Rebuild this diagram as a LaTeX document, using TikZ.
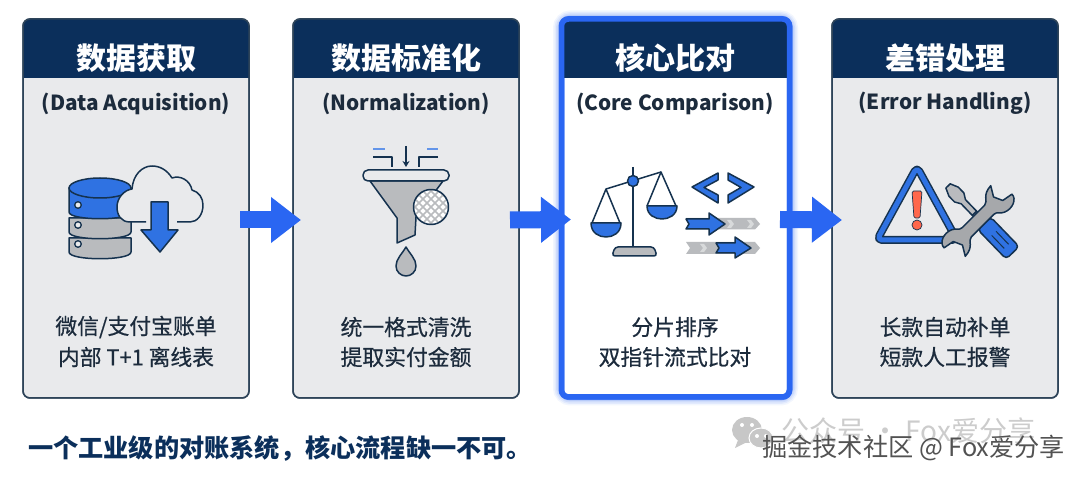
\documentclass[tikz,border=0pt]{standalone}
\usepackage{fontspec}
\usetikzlibrary{arrows.meta,calc}
\setmainfont{Noto Sans CJK SC}
\newfontfamily\medcjk[FakeBold=0.6]{Noto Sans CJK SC}
\definecolor{navy}{HTML}{0B2F5B}
\definecolor{edge}{HTML}{2E4459}
\definecolor{cardbg}{HTML}{E9EAEC}
\definecolor{bluee}{HTML}{2A66F2}
\definecolor{iconblue}{HTML}{2F72E2}
\definecolor{ink}{HTML}{15324F}
\definecolor{greyf}{HTML}{B9BBBE}
\definecolor{txt}{HTML}{1C2B3C}
\tikzset{
 card/.style={rectangle,rounded corners=7pt,draw=edge,line width=1.5pt,fill=cardbg,inner sep=0pt,outer sep=0pt,anchor=north west},
 hot/.style={card,draw=bluee,line width=5.5pt,fill=white},
 ttl/.style={font=\bfseries\fontsize{30}{30}\selectfont,text=white,inner sep=0pt},
 sub/.style={font=\bfseries\fontsize{20.8}{20.8}\selectfont,text=txt,inner sep=0pt},
 body/.style={font=\medcjk\fontsize{21.8}{21.8}\selectfont,text=txt,inner sep=0pt},
 flow/.style={draw=bluee,line width=17pt,-{Triangle[length=30pt,width=44pt]}},
 ic/.style={draw=ink,line width=1.5pt,line join=round},
}
\newcommand{\headbar}[1]{\fill[navy] ([yshift=-59pt]#1.north west) [rounded corners=7pt] -- (#1.north west) -- (#1.north east) [sharp corners] -- ([yshift=-59pt]#1.north east) -- cycle;
 \draw[edge,line width=1.5pt,rounded corners=7pt] (#1.north west) rectangle (#1.south east);}
\begin{document}
\begin{tikzpicture}[x=1pt,y=-1pt]
\useasboundingbox (0,0) rectangle (1080,478);
\fill[white] (0,0) rectangle (1080,478);
% glow
\foreach \w/\o in {17/0.06,14/0.08,11/0.10,8/0.14}
  \draw[bluee,opacity=\o,line width=\w pt,rounded corners=9pt] (561.5,19) rectangle (789.5,397);
\node[card,minimum width=226pt,minimum height=379pt] (c1) at (23,19) {};
\node[card,minimum width=226pt,minimum height=379pt] (c2) at (293,19) {};
\node[hot,minimum width=228pt,minimum height=378pt] (c3) at (561.5,19) {};
\node[card,minimum width=226pt,minimum height=379pt] (c4) at (832,19) {};
\headbar{c1}\headbar{c2}\headbar{c4}
\fill[navy] ([yshift=-59pt]c3.north west) [rounded corners=7pt] -- (c3.north west) -- (c3.north east) [sharp corners] -- ([yshift=-59pt]c3.north east) -- cycle;
\draw[bluee,line width=5.5pt,rounded corners=7pt] (c3.north west) rectangle (c3.south east);
% titles
\node[ttl] (t1) at (136,58) {数据获取};
\node[ttl] (t2) at (406,58) {数据标准化};
\node[ttl] (t3) at (675,58) {核心比对};
\node[ttl] (t4) at (945,58) {差错处理};
\node[sub] (s1) at (136,103.5) {(Data Acquisition)};
\node[sub] (s2) at (406,103.5) {(Normalization)};
\node[sub] (s3) at (675,103.5) {(Core Comparison)};
\node[sub] (s4) at (945,103.5) {(Error Handling)};
\node[body] (b1a) at (136,327) {微信/支付宝账单};
\node[body] (b1b) at (136,357) {内部 T+1 离线表};
\node[body] (b2a) at (406,327) {统一格式清洗};
\node[body] (b2b) at (406,357) {提取实付金额};
\node[body] (b3a) at (675,327) {分片排序};
\node[body] (b3b) at (675,357) {双指针流式比对};
\node[body] (b4a) at (945,327) {长款自动补单};
\node[body] (b4b) at (945,357) {短款人工报警};
% flow arrows
\coordinate (a1s) at ([xshift=-9pt,yshift=-11.5pt]c1.east);
\coordinate (a1e) at ([xshift=8pt,yshift=-11.5pt]c2.west);
\coordinate (a2s) at ([xshift=-9pt,yshift=-11.5pt]c2.east);
\coordinate (a2e) at ([xshift=9.5pt,yshift=-11.5pt]c3.west);
\coordinate (a3s) at ([xshift=-9.5pt,yshift=-11.5pt]c3.east);
\coordinate (a3e) at ([xshift=10pt,yshift=-11.5pt]c4.west);
\draw[flow] (a1s) -- (a1e);
\draw[flow] (a2s) -- (a2e);
\draw[flow] (a3s) -- (a3e);
% ---- icon 1
\foreach \a/\b/\f in {238/258/greyf,218/238/greyf,188/218/iconblue}{
 \path[ic,fill=\f] (69,\a) -- (69,\b-6) .. controls (69,\b+3) and (131,\b+3) .. (131,\b-6) -- (131,\a) -- cycle;
}
\path[ic,fill=iconblue] (100,188) ellipse [x radius=31pt,y radius=10pt];
\foreach \y in {205,225,244} \path[ic,fill=cardbg,line width=1.3pt] (78,\y) circle [radius=3.3pt];
\fill[cardbg] (146,222) -- (130,222) .. controls (121,222) and (117,215) .. (117,207) .. controls (117,198) and (124,190) .. (132,189) .. controls (133,175) and (142,166) .. (152,166) .. controls (160,166) and (167,170) .. (172,178) .. controls (180,175) and (190,180) .. (192,190) .. controls (199,192) and (203,198) .. (203,205) .. controls (203,215) and (197,222) .. (190,222) -- cycle;
\draw[ic] (146,222) -- (130,222) .. controls (121,222) and (117,215) .. (117,207) .. controls (117,198) and (124,190) .. (132,189) .. controls (133,175) and (142,166) .. (152,166) .. controls (160,166) and (167,170) .. (172,178) .. controls (180,175) and (190,180) .. (192,190) .. controls (199,192) and (203,198) .. (203,205) .. controls (203,215) and (197,222) .. (190,222) -- (177,222);
\path[ic,fill=iconblue] (151,202) -- (168,202) -- (168,230) -- (178,230) -- (160,252) -- (141,230) -- (151,230) -- cycle;
% ---- icon 2
\draw[draw=iconblue!75!white,line width=1.5pt] (373,149) -- (385,149) (427,149) -- (438,149);
\draw[ic] (373,157) -- (392,157) -- (392,167) (438,157) -- (419,157) -- (419,167);
\draw[ic,-{Stealth[length=6pt,width=7pt]}] (406,146) -- (406,167);
\path[ic,fill=greyf] (370,181) -- (397,218) -- (397,243) -- (415,235) -- (416,217) -- (443,181) -- cycle;
\path[ic,fill=cardbg,rounded corners=5pt] (363,170) rectangle (449,181);
\begin{scope}
 \path[clip] (431,207) circle [radius=17.5pt];
 \fill[white] (413,189) rectangle (449,225);
 \foreach \d in {-32,-24,...,32}{
  \draw[greyf,line width=1.6pt] (431+\d-22,207-22) -- (431+\d+22,207+22);
  \draw[greyf,line width=1.6pt] (431+\d-22,207+22) -- (431+\d+22,207-22);
 }
\end{scope}
\path[ic] (431,207) circle [radius=17.5pt];
\path[ic,fill=greyf] (406,247) .. controls (402,254) and (396,259) .. (396,266) .. controls (396,272) and (401,276) .. (406,276) .. controls (411,276) and (416,272) .. (416,266) .. controls (416,259) and (410,254) .. (406,247) -- cycle;
% ---- icon 3
\draw[ic] (633,167) -- (633,247);
\path[ic,fill=greyf,rounded corners=3pt] (612,256) -- (615,247) -- (654,247) -- (657,256) -- cycle;
\draw[ic] (606,189) -- (661,172);
\path[ic,fill=iconblue] (633,181) circle [radius=5.5pt];
\draw[ic] (592,223) -- (606,189) -- (620,223);
\draw[ic] (647,206) -- (661,172) -- (676,206);
\path[ic,fill=iconblue] (591,223) -- (621,223) .. controls (621,233) and (613,237) .. (606,237) .. controls (599,237) and (591,233) .. (591,223) -- cycle;
\path[ic,fill=iconblue] (647,206) -- (677,206) .. controls (677,215) and (669,219) .. (662,219) .. controls (655,219) and (647,215) .. (647,206) -- cycle;
\path[ic,fill=iconblue] (718,173) -- (692,187) -- (718,203) -- (718,195) -- (704,187.5) -- (718,180) -- cycle;
\path[ic,fill=iconblue] (728,173) -- (754,187) -- (728,203) -- (728,195) -- (741,187.5) -- (728,180) -- cycle;
\fill[greyf] (686,218) -- (755,218) -- (760,224) -- (755,229.5) -- (686,229.5) -- (690,224) -- cycle;
\fill[greyf] (686,242) -- (755,242) -- (760,248) -- (755,254) -- (686,254) -- (690,248) -- cycle;
\foreach \x/\y in {730/224,750/224,703/248}
  \fill[white!45!greyf] (\x-3,\y-4) -- (\x+1,\y-4) -- (\x+4,\y) -- (\x+1,\y+4) -- (\x-3,\y+4) -- (\x,\y) -- cycle;
\path[ic,fill=iconblue] (686,219) -- (709,219) -- (709,213) -- (725,224) -- (709,235) -- (709,229) -- (686,229) -- (689,224) -- cycle;
\path[ic,fill=iconblue] (716,243) -- (735,243) -- (735,237) -- (751,248) -- (735,258) -- (735,253) -- (716,253) -- (719,248) -- cycle;
% ---- icon 4
\draw[ink,line width=8pt,rounded corners=5pt,line join=round] (917,167) -- (877,240) -- (957,240) -- cycle;
\draw[iconblue,line width=5pt,rounded corners=5pt,line join=round] (917,167) -- (877,240) -- (957,240) -- cycle;
\path[draw=ink,line width=.7pt,fill=red!70!orange!70!white,rounded corners=1.5pt] (912,191) -- (922,191) -- (920,218) -- (914,218) -- cycle;
\path[draw=ink,line width=.7pt,fill=red!70!orange!70!white] (917,225) circle [radius=5pt];
\begin{scope}[shift={(980,219)},rotate=-46]
 \path[ic,fill=greyf] (-8,-3) rectangle (12,3);
 \path[ic,fill=greyf] (-46,-3) -- (-38,-6.5) -- (-30,-6.5) -- (-24,-3) -- (-8,-3) -- (-8,3) -- (-24,3) -- (-30,6.5) -- (-38,6.5) -- (-46,3) -- cycle;
 \path[ic,fill=iconblue,rounded corners=4pt] (6,-9) -- (47,-9) -- (47,9) -- (6,9) -- cycle;
 \draw[ink,line width=1pt] (20,-3) -- (38,-3) (20,3) -- (38,3);
\end{scope}
\begin{scope}[shift={(978,221)},rotate=45]
 \path[ic,fill=greyf!90!black] (16,-6.5) .. controls (22,-7) and (20,-15) .. (34,-16) -- (28,-6) -- (32,3) -- (43,5) .. controls (43,12) and (33,16) .. (25,12.5) .. controls (21,11) and (20,6.5) .. (16,6.5) -- (-16,6.5) .. controls (-22,7) and (-20,15) .. (-34,16) -- (-28,6) -- (-32,-3) -- (-43,-5) .. controls (-43,-12) and (-33,-16) .. (-25,-12.5) .. controls (-21,-11) and (-20,-6.5) .. (-16,-6.5) -- cycle;
\end{scope}
% caption
\node[font=\bfseries\fontsize{25.2}{25.2}\selectfont,text=navy,inner sep=0pt,anchor=west] (cap) at (28,449) {一个工业级的对账系统，核心流程缺一不可。};
% watermark
\fill[black!22] (747,430) ellipse [x radius=15pt,y radius=13pt];
\fill[black!22] (738,440) -- (735,448) -- (745,443) -- cycle;
\path[draw=white,line width=1pt,fill=black!22] (761,438) ellipse [x radius=12pt,y radius=10pt];
\foreach \x/\y in {742/425,752/425,757/436,766/436} \fill[white] (\x,\y) circle [radius=2pt];
\node[font=\fontsize{28}{28}\selectfont,text=black!20,inner sep=0pt,anchor=west] (wm1) at (781,431) {公众号 · Fox爱分享};
\node[font=\fontsize{25.2}{25.2}\selectfont,text=black!68,inner sep=0pt,anchor=west] (wm2) at (762,448) {掘金技术社区 @ Fox爱分享};
\end{tikzpicture}
\end{document}
